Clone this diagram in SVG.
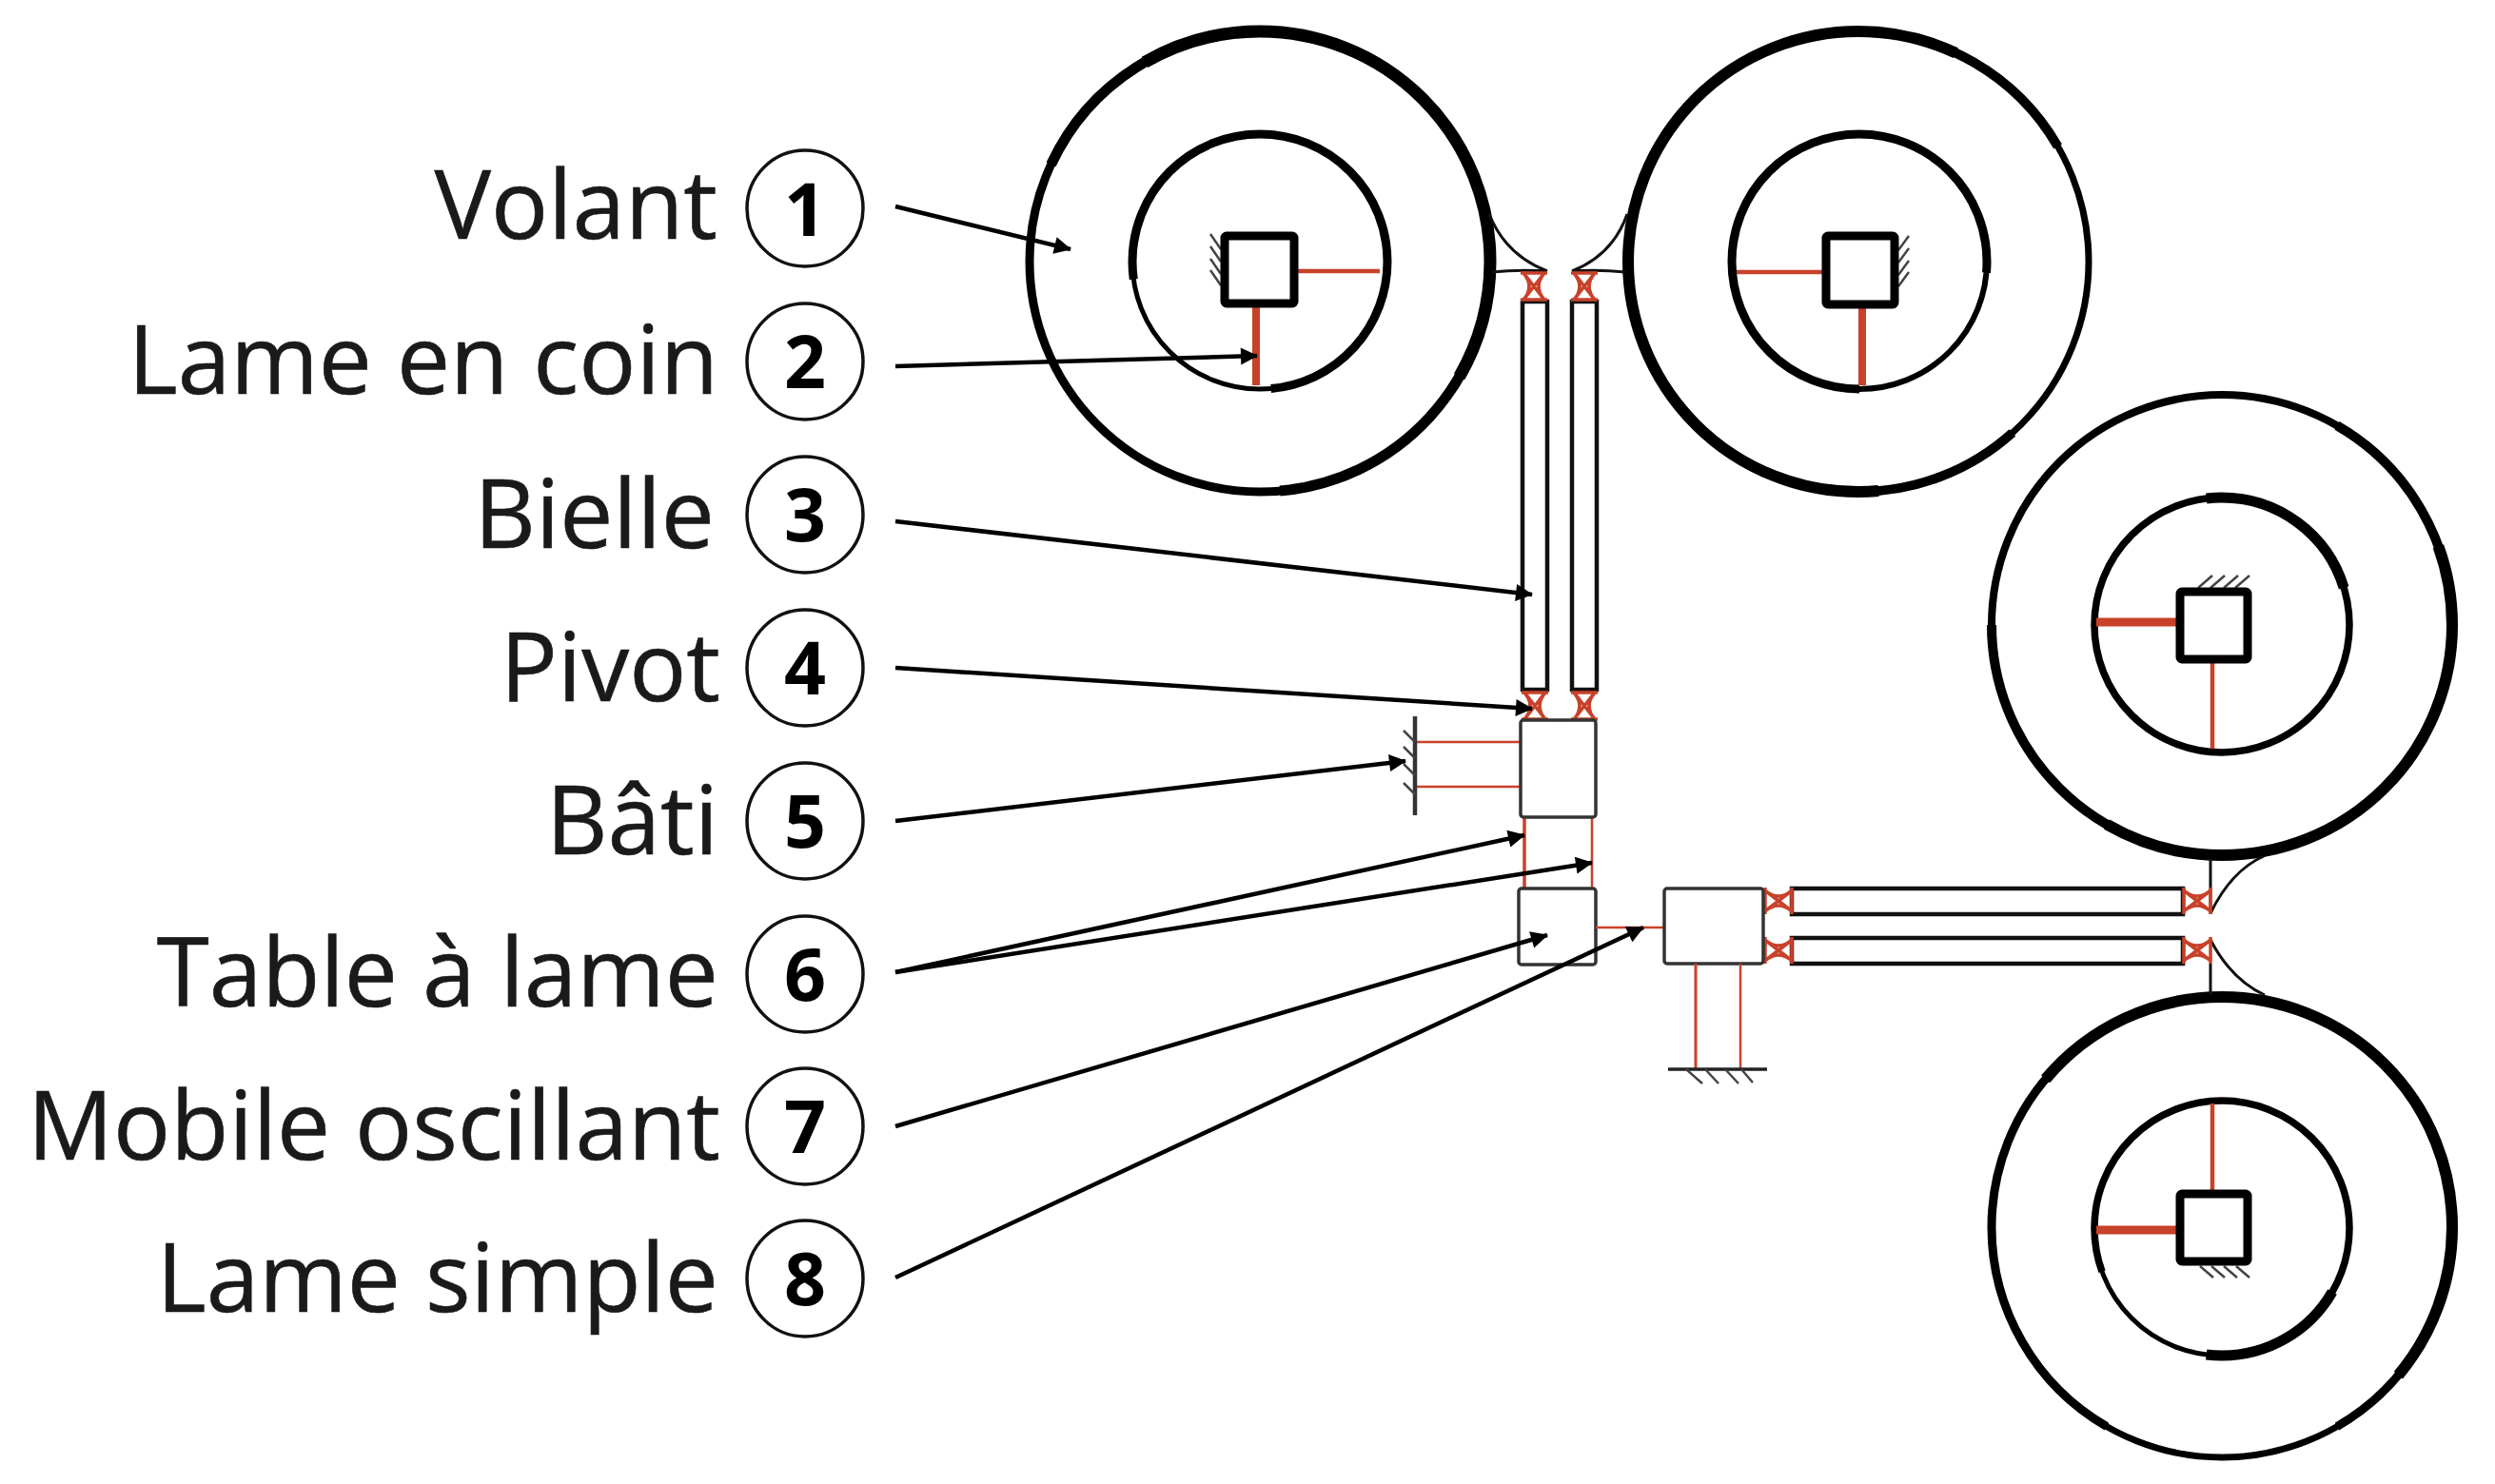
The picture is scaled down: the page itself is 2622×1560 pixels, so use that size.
<svg xmlns="http://www.w3.org/2000/svg" xmlns:xlink="http://www.w3.org/1999/xlink" width="2622" height="1560" viewBox="0 0 2622 1560">
<style>
.lbl{font-family:"Open Sans","Liberation Sans",sans-serif;font-size:100px;fill:#1a1a1a;text-anchor:end;stroke:#1a1a1a;stroke-width:.6}
.num{font-family:"Open Sans","Liberation Sans",sans-serif;font-weight:700;font-size:77px;fill:#000;text-anchor:middle}
.nc{fill:#fff;stroke:#111;stroke-width:3.5}
.ring{fill:none;stroke:#000}
.sq{fill:#fff;stroke:#000;stroke-width:9}
.box{fill:#fff;stroke:#333;stroke-width:3.5}
.rod{fill:#fff;stroke:#111;stroke-width:4.5}
.r{stroke:#c8412a;fill:none}
.h{stroke:#444;stroke-width:2.5;fill:none}
.k{stroke:#111;stroke-width:3;fill:none}
.arrow{stroke:#000;stroke-width:4.5;fill:none;marker-end:url(#ah)}
</style>
<defs>
<marker id="ah" markerUnits="userSpaceOnUse" markerWidth="20" markerHeight="20" refX="18" refY="10" orient="auto"><path d="M1,1 L19,10 L1,19 Z" fill="#000"/></marker>
<g id="pv"><path class="r" stroke-width="3.5" d="M0 0H28M0 28H28M3 0Q15 14 3 28M25 0Q13 14 25 28M4 1L24 27M24 1L4 27"/></g>
</defs>
<rect width="2622" height="1560" fill="#fff"/>

<g id="wheel-1">
<circle class="ring" cx="1324" cy="275" r="242" stroke-width="9"/>
<circle class="ring" cx="1324" cy="275" r="242" stroke-width="11" pathLength="360" stroke-dasharray="240 120" stroke-dashoffset="-205"/>
<circle class="ring" cx="1324" cy="275" r="242" stroke-width="13" pathLength="360" stroke-dasharray="150 210" stroke-dashoffset="-240"/>
<circle class="ring" cx="1324" cy="275" r="134" stroke-width="5"/>
<circle class="ring" cx="1324" cy="275" r="134" stroke-width="9" pathLength="360" stroke-dasharray="273 87" stroke-dashoffset="-172"/>
<path class="h" d="M1272 246L1283 262M1272 259L1283 275M1272 272L1283 288M1272 284L1283 300"/>
<path class="r" stroke-width="4.5" d="M1362 285H1450"/>
<path class="r" stroke-width="8" d="M1320 320V405"/>
<rect class="sq" x="1287" y="248" width="73" height="71" rx="2"/>
<path class="k" d="M1565 225Q1582 268 1626 285M1568 286Q1595 283 1626 285"/>
</g>
<g id="wheel-2">
<circle class="ring" cx="1953" cy="275" r="242" stroke-width="7"/>
<circle class="ring" cx="1953" cy="275" r="242" stroke-width="10" pathLength="360" stroke-dasharray="282 78" stroke-dashoffset="-48"/>
<circle class="ring" cx="1953" cy="275" r="242" stroke-width="12" pathLength="360" stroke-dasharray="210 150" stroke-dashoffset="-85"/>
<circle class="ring" cx="1954" cy="275" r="134" stroke-width="6"/>
<circle class="ring" cx="1954" cy="275" r="134" stroke-width="9" pathLength="360" stroke-dasharray="275 85" stroke-dashoffset="-90"/>
<path class="h" d="M2006 248L1995 263M2006 261L1995 276M2006 274L1995 289M2006 286L1995 301"/>
<path class="r" stroke-width="4.5" d="M1825 286H1915"/>
<path class="r" stroke-width="8" d="M1957 322V405"/>
<rect class="sq" x="1919" y="248" width="72" height="72" rx="2"/>
<path class="k" d="M1710 225Q1695 268 1652 285M1652 285Q1680 283 1708 286"/>
</g>
<g id="wheel-3">
<circle class="ring" cx="2335" cy="657" r="242" stroke-width="8"/>
<circle class="ring" cx="2335" cy="657" r="242" stroke-width="10" pathLength="360" stroke-dasharray="240 120" stroke-dashoffset="-300"/>
<circle class="ring" cx="2335" cy="657" r="242" stroke-width="12" pathLength="360" stroke-dasharray="140 220" stroke-dashoffset="-340"/>
<circle class="ring" cx="2335" cy="657" r="134" stroke-width="7.5"/>
<circle class="ring" cx="2335" cy="657" r="134" stroke-width="5" pathLength="360" stroke-dasharray="63 297" stroke-dashoffset="-200"/>
<circle class="ring" cx="2335" cy="657" r="134" stroke-width="11" pathLength="360" stroke-dasharray="80 280" stroke-dashoffset="-263"/>
<path class="h" d="M2310 618L2325 605M2323 618L2338 605M2337 618L2352 605M2349 618L2364 605"/>
<path class="r" stroke-width="9" d="M2203 654H2288"/>
<path class="r" stroke-width="4.5" d="M2325 695V787"/>
<rect class="sq" x="2291" y="622" width="71" height="71" rx="2"/>
<path class="k" d="M2323 903V960M2323 960Q2345 915 2379 900"/>
</g>
<g id="wheel-4">
<circle class="ring" cx="2335" cy="1290" r="242" stroke-width="7"/>
<circle class="ring" cx="2335" cy="1290" r="242" stroke-width="9" pathLength="360" stroke-dasharray="300 60" stroke-dashoffset="-120"/>
<circle class="ring" cx="2335" cy="1290" r="242" stroke-width="12" pathLength="360" stroke-dasharray="180 180" stroke-dashoffset="-220"/>
<circle class="ring" cx="2335" cy="1291" r="134" stroke-width="5"/>
<circle class="ring" cx="2335" cy="1291" r="134" stroke-width="7.5" pathLength="360" stroke-dasharray="240 120" stroke-dashoffset="-160"/>
<circle class="ring" cx="2335" cy="1291" r="134" stroke-width="11" pathLength="360" stroke-dasharray="67 293" stroke-dashoffset="-30"/>
<path class="h" d="M2312 1331L2326 1343M2324 1331L2338 1343M2337 1331L2351 1343M2350 1331L2364 1343"/>
<path class="r" stroke-width="9" d="M2203 1293H2288"/>
<path class="r" stroke-width="4.5" d="M2325 1160V1252"/>
<rect class="sq" x="2291" y="1255" width="71" height="71" rx="2"/>
<path class="k" d="M2323 1013V1046M2323 988Q2345 1030 2380 1046"/>
</g>

<g id="rods-vertical">
<rect class="rod" x="1600" y="317" width="26" height="408"/>
<rect class="rod" x="1652" y="317" width="26" height="408"/>
<use xlink:href="#pv" href="#pv" x="1598" y="287"/>
<use xlink:href="#pv" href="#pv" x="1651" y="287"/>
<use xlink:href="#pv" href="#pv" x="1599" y="728"/>
<use xlink:href="#pv" href="#pv" x="1651" y="728"/>
</g>
<g id="rods-horizontal">
<rect class="rod" x="1883" y="934" width="411" height="27"/>
<rect class="rod" x="1883" y="986" width="411" height="27"/>
<use xlink:href="#pv" href="#pv" transform="translate(1855 933) rotate(90 14 14)"/>
<use xlink:href="#pv" href="#pv" transform="translate(1855 985) rotate(90 14 14)"/>
<use xlink:href="#pv" href="#pv" transform="translate(2295 933) rotate(90 14 14)"/>
<use xlink:href="#pv" href="#pv" transform="translate(2295 985) rotate(90 14 14)"/>
</g>
<g id="frame-left">
<path d="M1487 753V857" stroke="#333" stroke-width="4.5" fill="none"/>
<path class="h" d="M1475 768L1487 780M1475 785L1487 797M1475 803L1487 815M1475 823L1487 835"/>
<path class="r" stroke-width="2.5" d="M1489 780H1597M1489 827H1597"/>
</g>
<g id="table-blade">
<path class="r" stroke-width="3.5" d="M1602 859V934"/>
<path class="r" stroke-width="2.5" d="M1673 859V934"/>
</g>
<g id="block-top"><rect class="box" x="1598" y="757" width="79" height="102" rx="3"/></g>
<g id="block-mobile"><rect class="box" x="1596" y="934" width="81" height="80" rx="3"/></g>
<g id="blade-simple"><path class="r" stroke-width="2.5" d="M1677 975H1749"/></g>
<g id="block-right"><rect class="box" x="1749" y="934" width="104" height="79" rx="3"/></g>
<g id="frame-bottom">
<path class="r" stroke-width="3" d="M1782 1013V1123"/>
<path class="r" stroke-width="2.5" d="M1829 1013V1123"/>
<path d="M1753 1124H1857" stroke="#222" stroke-width="3.5" fill="none"/>
<path class="h" d="M1772 1124L1789 1139M1792 1124L1806 1139M1813 1124L1827 1139M1830 1124L1842 1138"/>
</g>

<g id="connectors">
<path class="arrow" d="M941 217L1125 262"/>
<path class="arrow" d="M941 385L1321 374"/>
<path class="arrow" d="M941 548L1610 625"/>
<path class="arrow" d="M941 702L1610 745"/>
<path class="arrow" d="M941 863L1477 800"/>
<path class="arrow" d="M941 1022L1602 878"/>
<path class="arrow" d="M941 1022L1673 907"/>
<path class="arrow" d="M941 1184L1626 983"/>
<path class="arrow" d="M941 1343L1727 975"/>
</g>

<g id="label-1"><text class="lbl" x="754" y="251">Volant</text><circle class="nc" cx="846" cy="219" r="61"/><text class="num" x="846" y="248">1</text></g>
<g id="label-2"><text class="lbl" x="755" y="414">Lame en coin</text><circle class="nc" cx="846" cy="380" r="61"/><text class="num" x="846" y="408">2</text></g>
<g id="label-3"><text class="lbl" x="751" y="576">Bielle</text><circle class="nc" cx="846" cy="541" r="61"/><text class="num" x="846" y="569">3</text></g>
<g id="label-4"><text class="lbl" x="757" y="737">Pivot</text><circle class="nc" cx="846" cy="702" r="61"/><text class="num" x="846" y="730">4</text></g>
<g id="label-5"><text class="lbl" x="755" y="898">Bâti</text><circle class="nc" cx="846" cy="863" r="61"/><text class="num" x="846" y="891">5</text></g>
<g id="label-6"><text class="lbl" x="755" y="1058">Table à lame</text><circle class="nc" cx="846" cy="1024" r="61"/><text class="num" x="846" y="1052">6</text></g>
<g id="label-7"><text class="lbl" x="757" y="1219">Mobile oscillant</text><circle class="nc" cx="846" cy="1184" r="61"/><text class="num" x="846" y="1212">7</text></g>
<g id="label-8"><text class="lbl" x="755" y="1379">Lame simple</text><circle class="nc" cx="846" cy="1344" r="61"/><text class="num" x="846" y="1372">8</text></g>
</svg>
